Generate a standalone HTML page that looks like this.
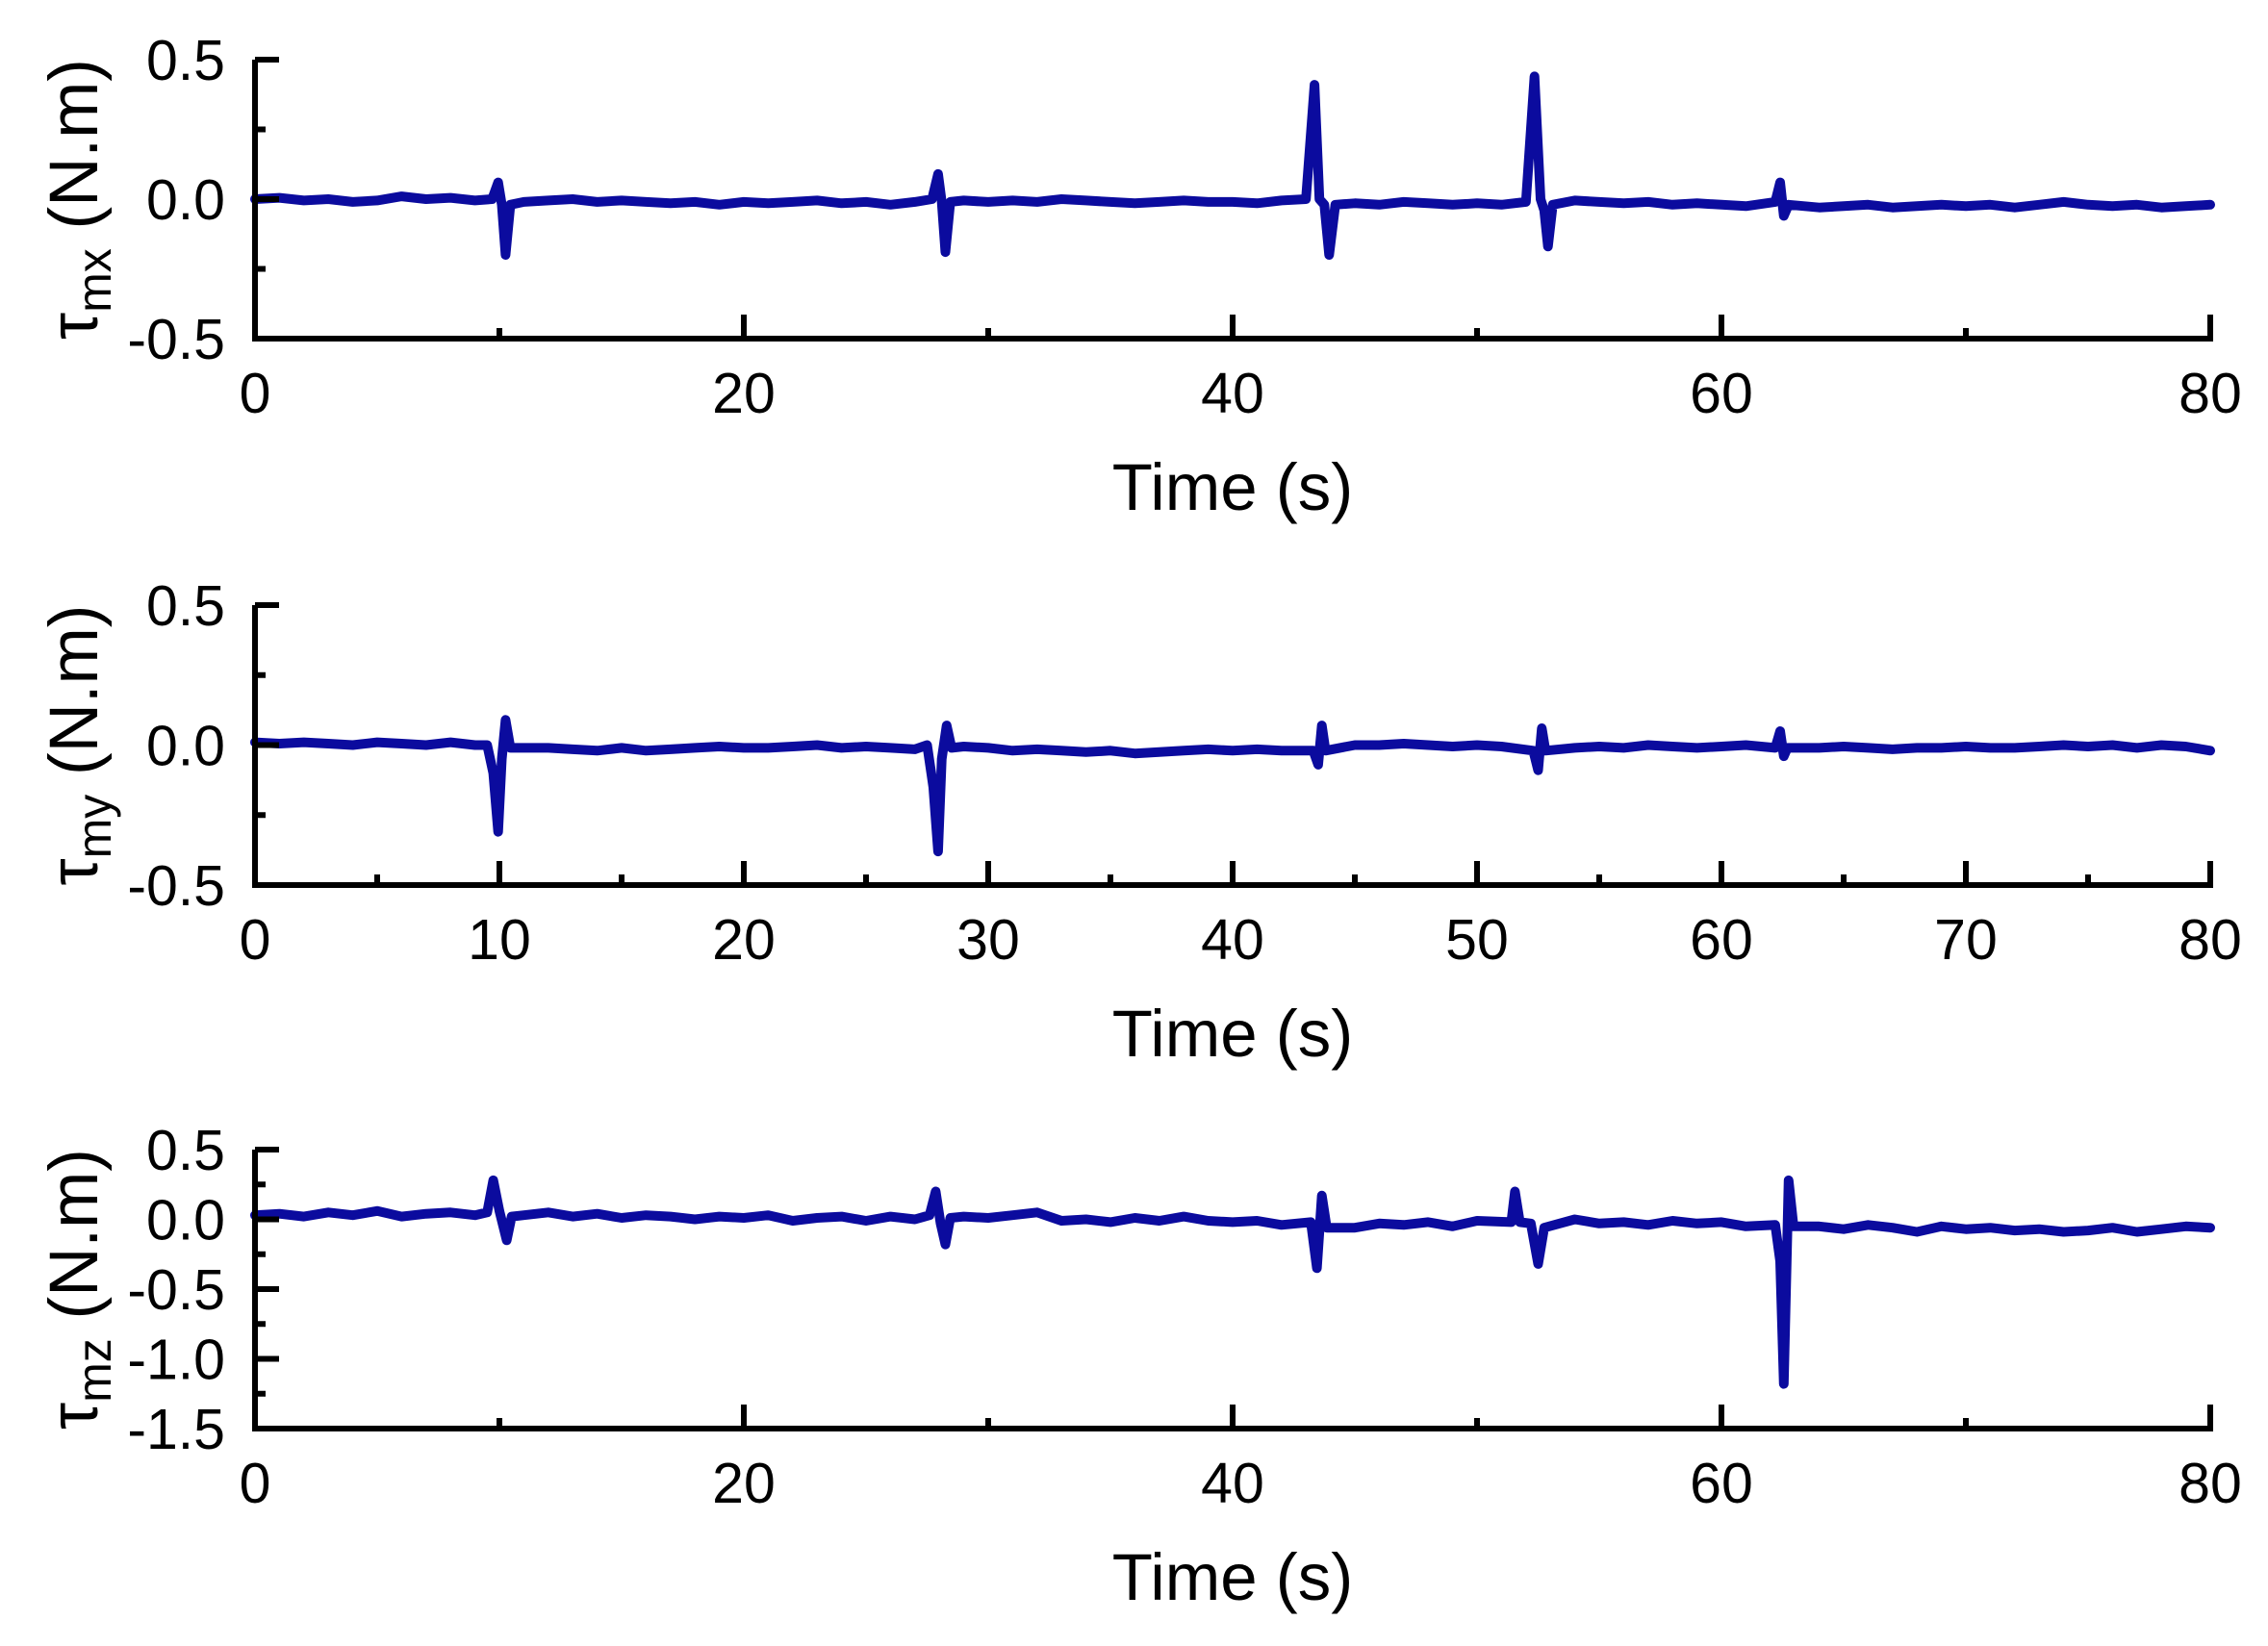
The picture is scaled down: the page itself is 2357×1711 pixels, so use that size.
<!DOCTYPE html>
<html><head><meta charset="utf-8"><style>
html,body{margin:0;padding:0;background:#fff}
svg{display:block}
text{font-family:"Liberation Sans",Arial,sans-serif;fill:#000}
</style></head><body>
<svg id="fig" width="2357" height="1711" viewBox="0 0 2357 1711" xmlns="http://www.w3.org/2000/svg"></svg>
<script>
// ---- data ----
const baseMx = [0,0.005,-0.005,0,-0.01,-0.005,0.01,0,0.005,-0.005,-0.01,-0.01,-0.005,0,-0.01,-0.005,-0.01,-0.015,-0.01,-0.02,-0.01,-0.015,-0.01,-0.005,-0.015,-0.01,-0.02,-0.01,-0.01,-0.005,-0.01,-0.005,-0.01,0,-0.005,-0.01,-0.015,-0.01,-0.005,-0.01,-0.01,-0.015,-0.005,-0.01,-0.01,-0.015,-0.02,-0.01,-0.015,-0.02,-0.015,-0.02,-0.01,-0.01,-0.005,-0.01,-0.015,-0.01,-0.02,-0.015,-0.02,-0.025,-0.02,-0.02,-0.03,-0.025,-0.02,-0.03,-0.025,-0.02,-0.025,-0.02,-0.03,-0.02,-0.01,-0.02,-0.025,-0.02,-0.03,-0.025,-0.02];
const spikeMxT = [9.7,9.95,10.1,10.25,10.45,27.7,27.95,28.1,28.25,28.45,43.0,43.35,43.55,43.75,43.95,44.2,52.0,52.35,52.6,52.75,52.9,53.1,62.2,62.4,62.55,62.75];
const spikeMxV = [0,0.06,-0.02,-0.2,-0.02,0,0.09,-0.01,-0.19,-0.01,0,0.41,0.0,-0.02,-0.2,-0.02,-0.01,0.44,0.0,-0.04,-0.17,-0.02,-0.01,0.06,-0.06,-0.02];

const baseMy = [0.01,0.005,0.01,0.005,0,0.01,0.005,0,0.01,0,-0.005,-0.01,-0.01,-0.015,-0.02,-0.01,-0.02,-0.015,-0.01,-0.005,-0.01,-0.01,-0.005,0,-0.01,-0.005,-0.01,-0.015,-0.01,-0.005,-0.01,-0.02,-0.015,-0.02,-0.025,-0.02,-0.03,-0.025,-0.02,-0.015,-0.02,-0.015,-0.02,-0.01,-0.01,0,0,0.005,0,-0.005,0,-0.005,-0.01,-0.015,-0.01,-0.005,-0.01,0,-0.005,-0.01,-0.005,0,-0.01,-0.005,-0.01,-0.005,-0.01,-0.015,-0.01,-0.01,-0.005,-0.01,-0.01,-0.005,0,-0.005,0,-0.01,0,-0.005,-0.02];
const spikeMyT = [9.5,9.75,9.95,10.1,10.25,10.45,27.5,27.75,27.95,28.1,28.3,28.5,43.3,43.5,43.65,43.8,52.3,52.5,52.65,52.8,62.2,62.4,62.55,62.7];
const spikeMyV = [0,-0.1,-0.31,-0.05,0.09,-0.01,0,-0.15,-0.38,-0.05,0.07,-0.01,-0.02,-0.07,0.07,-0.02,-0.02,-0.09,0.06,-0.02,-0.01,0.05,-0.04,-0.01];

const baseMz = [0.03,0.04,0.02,0.05,0.03,0.06,0.02,0.04,0.05,0.03,0.06,0.03,0.05,0.02,0.04,0.01,0.03,0.02,0.0,0.02,0.01,0.03,-0.01,0.01,0.02,-0.01,0.02,0.0,0.04,0.02,0.01,0.03,0.05,-0.01,0.0,-0.02,0.01,-0.01,0.02,-0.01,-0.02,-0.01,-0.04,-0.03,-0.05,-0.06,-0.03,-0.04,-0.02,-0.05,-0.01,-0.03,-0.04,-0.02,0.0,-0.03,-0.02,-0.04,-0.01,-0.03,-0.02,-0.05,-0.03,-0.06,-0.05,-0.07,-0.04,-0.06,-0.09,-0.05,-0.07,-0.06,-0.08,-0.07,-0.09,-0.08,-0.06,-0.09,-0.07,-0.05,-0.06];
const spikeMzT = [9.5,9.75,10.0,10.3,10.5,27.6,27.85,28.05,28.25,28.45,43.2,43.45,43.65,43.85,51.4,51.55,51.75,52.2,52.5,52.75,62.2,62.4,62.55,62.75,62.95];
const spikeMzV = [0.05,0.28,0.06,-0.15,0.02,0.03,0.2,-0.03,-0.18,0.01,-0.02,-0.35,0.17,-0.06,-0.02,0.2,-0.02,-0.03,-0.32,-0.06,-0.04,-0.3,-1.18,0.28,-0.05];

const xTicksA = [0,20,40,60,80];
const xTicksB = [0,10,20,30,40,50,60,70,80];
const yTicksA = ["0.5","0.0","-0.5"];
const yTicksC = ["0.5","0.0","-0.5","-1.0","-1.5"];

// ---- drawing ----
const NS="http://www.w3.org/2000/svg";
const svg=document.getElementById('fig');
const X0=265, X1=2297;
function mk(tag,attrs,parent){const e=document.createElementNS(NS,tag);for(const k in attrs)e.setAttribute(k,attrs[k]);(parent||svg).appendChild(e);return e;}
function merge(base,st,sv){
  const pts=[];
  for(let i=0;i<base.length;i++){
    const t=i;
    let inSpike=false;
    for(let j=0;j<st.length;j++){ if(Math.abs(st[j]-t)<0.5) inSpike=true; }
    if(!inSpike) pts.push([t,base[i]]);
  }
  for(let j=0;j<st.length;j++) pts.push([st[j],sv[j]]);
  pts.sort((a,b)=>a[0]-b[0]);
  return pts;
}
function panel(name,yTop,yBot,vTop,vBot,labels,xlabels,minorX,base,st,sv,sub){
  const g=mk('g',{});
  
  
  const sx=v=>X0+(X1-X0)*v/80;
  const sy=v=>yTop+(yBot-yTop)*(vTop-v)/(vTop-vBot);
  const pts=merge(base,st,sv).map(p=>sx(p[0]).toFixed(1)+','+sy(p[1]).toFixed(1)).join(' ');
  const line=mk('polyline',{points:pts,fill:'none',stroke:'#0b0b9e','stroke-width':10,'stroke-linejoin':'round','stroke-linecap':'round'},g);
  
  
  const ax=mk('path',{d:`M${X0},${yTop} V${yBot} H${X1} V${yBot-25}`,fill:'none',stroke:'#000','stroke-width':6},g);
  
  
  for(let v=vTop;v>=vBot-1e-9;v-=0.25){
    const major=Math.abs(v*2-Math.round(v*2))<1e-6;
    mk('line',{x1:X0,x2:X0+(major?25:11),y1:sy(v),y2:sy(v),stroke:'#000','stroke-width':6},g);
  }
  labels.forEach(l=>{
    const t=mk('text',{x:234,y:sy(parseFloat(l))+21,'text-anchor':'end','font-size':59},g);
    t.textContent=l;
    
    
  });
  for(let v=0;v<=80;v+=minorX){
    const major=xlabels.indexOf(v)>=0;
    mk('line',{x1:sx(v),x2:sx(v),y1:yBot,y2:yBot-(major?25:11),stroke:'#000','stroke-width':6},g);
  }
  xlabels.forEach(v=>{
    const t=mk('text',{x:sx(v),y:yBot+77,'text-anchor':'middle','font-size':59},g);
    t.textContent=v;
    
    
  });
  const xt=mk('text',{x:(X0+X1)/2,y:yBot+178,'text-anchor':'middle','font-size':69},g);
  xt.textContent='Time (s)';
  
  
  const cy=(yTop+yBot)/2;
  const yt=mk('text',{x:0,y:0,'text-anchor':'middle','font-size':71,transform:`translate(101,${cy}) rotate(-90)`},g);
  
  
  const a=mk('tspan',{},yt); a.textContent='τ';
  const b=mk('tspan',{'font-size':50,dy:14},yt); b.textContent=sub;
  const c=mk('tspan',{dy:-14},yt); c.textContent=' (N.m)';
}
panel('panel-tau-mx',62,352,0.5,-0.5,yTicksA,xTicksA,10,baseMx,spikeMxT,spikeMxV,'mx');
panel('panel-tau-my',629,920,0.5,-0.5,yTicksA,xTicksB,5,baseMy,spikeMyT,spikeMyV,'my');
panel('panel-tau-mz',1195,1485,0.5,-1.5,yTicksC,xTicksA,10,baseMz,spikeMzT,spikeMzV,'mz');
</script>
</body></html>
